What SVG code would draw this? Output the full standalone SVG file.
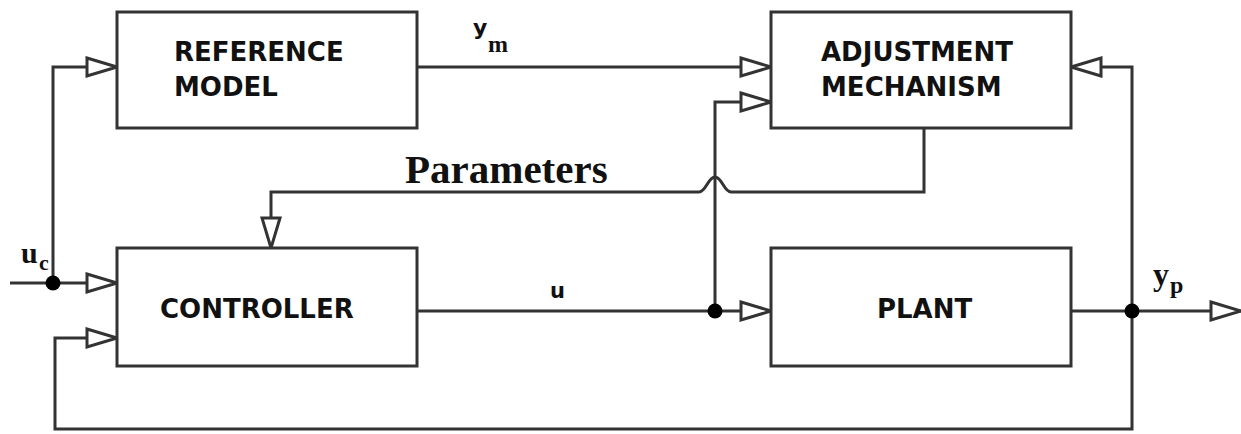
<svg xmlns="http://www.w3.org/2000/svg" width="1241" height="434" viewBox="0 0 1241 434">
<style>
.box{fill:#fff;stroke:#333;stroke-width:3}
.lbl{font-family:"DejaVu Sans",sans-serif;font-weight:bold;font-size:26px;fill:#111}
.wire{fill:none;stroke:#333;stroke-width:3}
.sig{font-family:"Liberation Serif",serif;font-weight:bold;fill:#111}
.dot{fill:#000}
</style>
<defs>
<marker id="arr" markerUnits="userSpaceOnUse" markerWidth="34" markerHeight="22" refX="30" refY="10" orient="auto" viewBox="-2 -1 34 22">
<path d="M0,1 L30,10 L0,19 Z" fill="#fff" stroke="#333" stroke-width="3" stroke-linejoin="miter"/>
</marker>
</defs>
<rect width="1241" height="434" fill="#fff"/>
<g id="connectors">
<path class="wire" d="M53,283 V67 H117" marker-end="url(#arr)"/>
<path class="wire" d="M10,283 H117" marker-end="url(#arr)"/>
<path class="wire" d="M417,67 H771" marker-end="url(#arr)"/>
<path class="wire" d="M715,311 V102 H771" marker-end="url(#arr)"/>
<path class="wire" d="M417,311 H771" marker-end="url(#arr)"/>
<path class="wire" d="M1071,311 H1241" marker-end="url(#arr)"/>
<path class="wire" d="M1132,311 V67 H1071" marker-end="url(#arr)"/>
<path class="wire" d="M1132,311 V429 H55 V338 H117" marker-end="url(#arr)"/>
<path class="wire" d="M924,128 V192 H731 C724,192 722,177 715,177 C708,177 706,192 699,192 H271 V248" marker-end="url(#arr)"/>
<circle class="dot" cx="53" cy="283" r="7.5"/>
<circle class="dot" cx="715" cy="311" r="7.5"/>
<circle class="dot" cx="1132" cy="311" r="7.5"/>
</g>
<g id="reference-model">
<rect class="box" x="117" y="12" width="300" height="116"/>
<text class="lbl" x="174" y="61">REFERENCE</text>
<text class="lbl" x="174" y="96">MODEL</text>
</g>
<g id="adjustment-mechanism">
<rect class="box" x="771" y="12" width="300" height="116"/>
<text class="lbl" x="821" y="61">ADJUSTMENT</text>
<text class="lbl" x="821" y="96">MECHANISM</text>
</g>
<g id="controller">
<rect class="box" x="117" y="248" width="300" height="118"/>
<text class="lbl" x="160" y="318">CONTROLLER</text>
</g>
<g id="plant">
<rect class="box" x="771" y="248" width="300" height="118"/>
<text class="lbl" x="877" y="318">PLANT</text>
</g>
<g id="labels">
<text class="sig" x="405" y="183" font-size="41">Parameters</text>
<text x="473" y="35" font-family="DejaVu Sans, sans-serif" font-weight="bold" font-size="22" fill="#111">y</text>
<text class="sig" x="488" y="52" font-size="24">m</text>
<text class="sig" x="21" y="263" font-size="30">u</text>
<text class="sig" x="39" y="270" font-size="22">c</text>
<text x="550" y="298" font-family="DejaVu Sans, sans-serif" font-weight="bold" font-size="21" fill="#111">u</text>
<text class="sig" x="1153" y="285" font-size="32">y</text>
<text class="sig" x="1170" y="293" font-size="24">p</text>
</g>
</svg>
